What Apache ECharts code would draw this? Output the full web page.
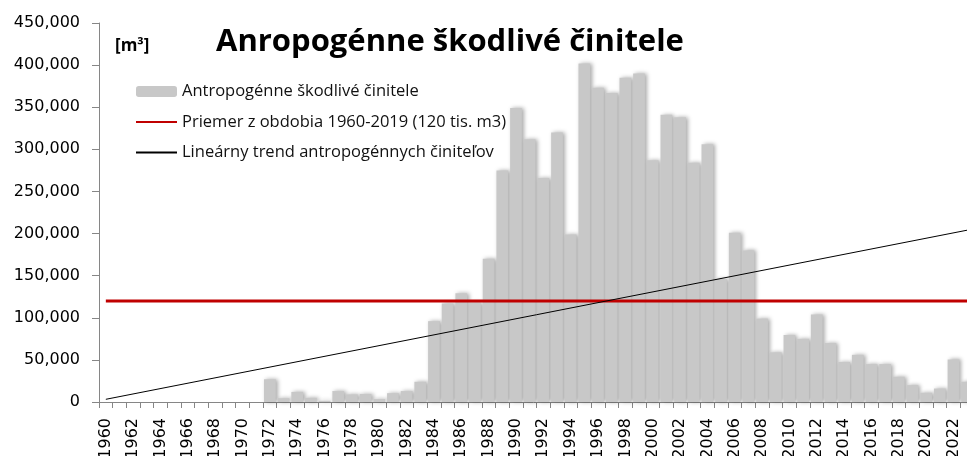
<!DOCTYPE html>
<html>
<head>
<meta charset="utf-8">
<script src="https://cdn.jsdelivr.net/npm/echarts@6/dist/echarts.min.js"></script>
<style>
  html, body { margin: 0; padding: 0; background: #fff; }
  #chart { width: 967px; height: 456px; }
</style>
</head>
<body>
<div id="chart"></div>
<script>
// roky 1960-2023
var years = [];
for (var y = 1960; y <= 2023; y++) { years.push(String(y)); }

// objem antropogénnych škodlivých činiteľov [m3]
var damage = [
    0, 0, 0, 0, 0, 0, 0, 0, 0, 0, 0, 0,                                 // 1960-1971
    27000, 4500, 12000, 5000, 1500, 13000, 9000, 9500, 3500, 10500,     // 1972-1981
    13000, 24000, 96000, 117000, 129000, 118000, 170000, 275000,        // 1982-1989
    349000, 312000, 266000, 320000, 199000, 402000, 373000, 367000,     // 1990-1997
    385000, 390000, 287000, 341000, 338000, 284000, 306000, 146000,     // 1998-2005
    201000, 180000, 99000, 59000, 79500, 75000, 104000, 70000,          // 2006-2013
    47500, 56000, 45000, 45000, 30000, 20000, 11000, 16000,             // 2014-2021
    50500, 24000                                                        // 2022-2023
];

var meanValue = 120000;          // priemer 1960-2019
var trendEnds = [3200, 204000];  // lineárny trend: 1960, 2023

var names = ['Antropogénne škodlivé činitele',
             'Priemer z obdobia 1960-2019 (120 tis. m3)',
             'Lineárny trend antropogénnych činiteľov'];

var chart = echarts.init(document.getElementById('chart'));
var option = {
    animation: false,
    title: {
        text: 'Anropogénne škodlivé činitele',
        left: 216,
        top: 27,
        padding: 0,
        textStyle: {
            fontFamily: 'Open Sans',
            fontWeight: 'bold',
            fontSize: 31,
            color: '#000'
        }
    },
    graphic: [{
        type: 'text',
        left: 115,
        top: 38,
        style: {
            text: '[m³]',
            font: 'bold 17px "Open Sans"',
            fill: '#000'
        }
    }],
    legend: {
        orient: 'vertical',
        left: 135,
        top: 83,
        padding: 0,
        itemGap: 13.5,
        itemWidth: 41,
        itemHeight: 11,
        data: [
            { name: names[0] },
            { name: names[1], itemStyle: { opacity: 0 } },
            { name: names[2], itemStyle: { opacity: 0 } }
        ],
        textStyle: {
            fontFamily: 'Open Sans',
            fontSize: 16.5,
            color: '#111'
        }
    },
    grid: {
        left: 99,
        right: -7,
        top: 23,
        bottom: 54,
        containLabel: false,
        outerBoundsMode: 'none'
    },
    xAxis: {
        type: 'category',
        data: years,
        axisLine: { lineStyle: { color: '#868686', width: 1 } },
        axisTick: {
            show: true,
            interval: 0,
            length: 6,
            lineStyle: { color: '#868686' }
        },
        axisLabel: {
            interval: 1,
            rotate: 90,
            margin: 16,
            fontFamily: 'DejaVu Sans',
            fontSize: 16,
            color: '#000'
        }
    },
    yAxis: {
        type: 'value',
        min: 0,
        max: 450000,
        interval: 50000,
        axisLine: { show: true, lineStyle: { color: '#868686', width: 1 } },
        axisTick: { show: true, length: 7, lineStyle: { color: '#868686' } },
        splitLine: { show: false },
        axisLabel: {
            margin: 19,
            fontFamily: 'DejaVu Sans',
            fontSize: 16,
            color: '#000',
            formatter: function (v) { return v.toLocaleString('en-US'); }
        }
    },
    series: [
        {
            name: names[0],
            type: 'bar',
            data: damage,
            barCategoryGap: '14%',
            itemStyle: {
                color: '#c8c8c8',
                shadowBlur: 4,
                shadowOffsetX: 2,
                shadowColor: 'rgba(0,0,0,0.35)'
            }
        },
        {
            name: names[1],
            type: 'line',
            symbol: 'none',
            data: [[years[0], meanValue], [years[years.length - 1], meanValue]],
            lineStyle: { color: '#c00000', width: 3 },
            itemStyle: { color: '#c00000' },
            z: 3
        },
        {
            name: names[2],
            type: 'line',
            symbol: 'none',
            data: [[years[0], trendEnds[0]], [years[years.length - 1], trendEnds[1]]],
            lineStyle: { color: '#000', width: 1 },
            itemStyle: { color: '#555' },
            z: 4
        }
    ]
};
chart.setOption(option);
</script>
</body>
</html>
